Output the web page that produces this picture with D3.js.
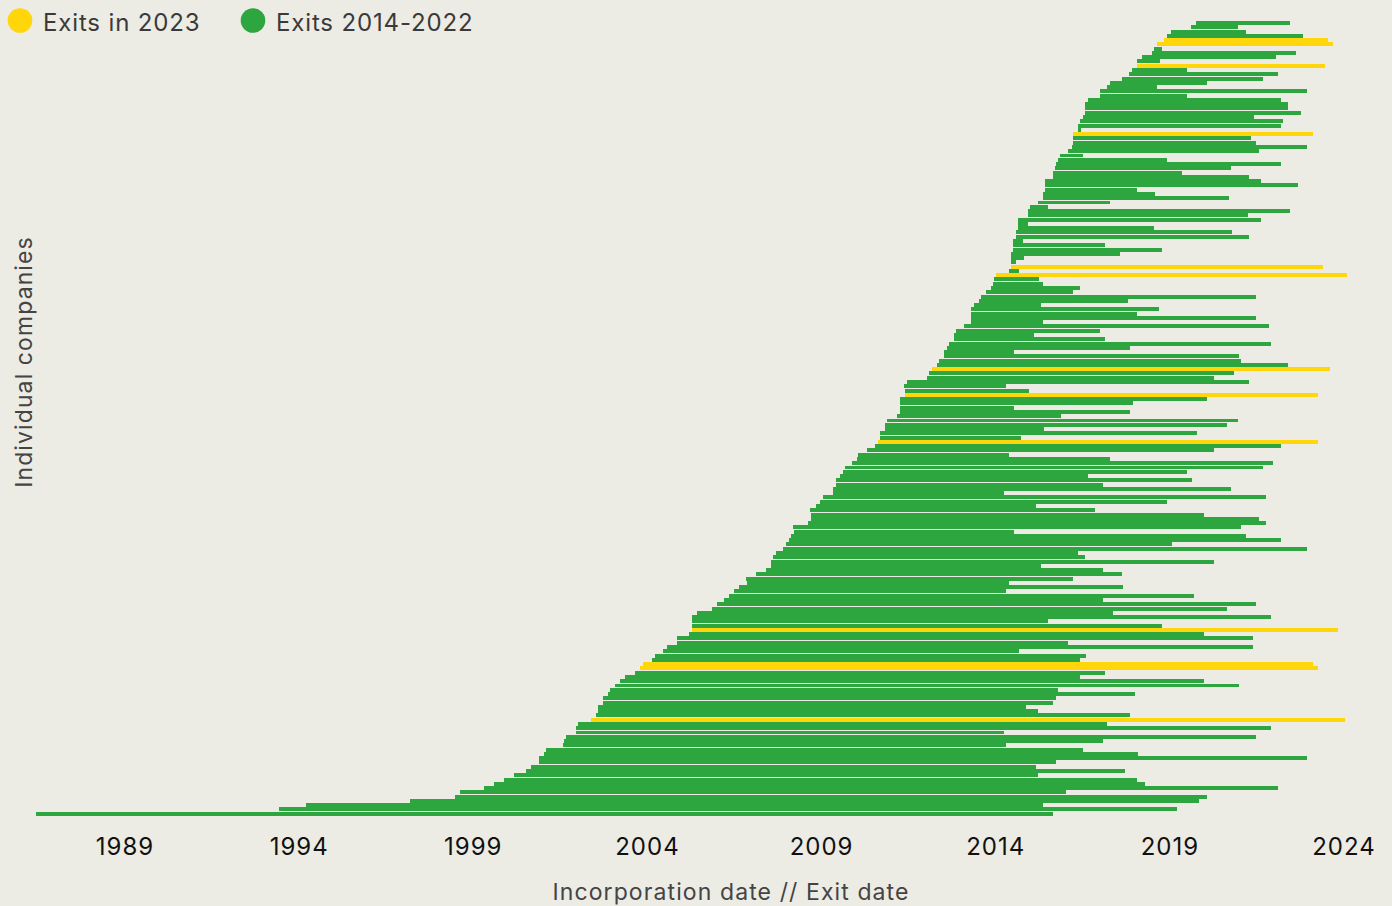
<!DOCTYPE html>
<html>
<head>
<meta charset="utf-8">
<script src="https://cdn.jsdelivr.net/npm/d3@7"></script>
<style>
    html, body { margin: 0; padding: 0; background: #ecebe4; }
    svg { display: block; font-family: Inter, "Noto Sans", sans-serif; }
</style>
</head>
<body>
<div id="chart"></div>
<script>
// one row per company, top to bottom, as decimal years
var incorporated = [
    2019.77, 2019.63, 2019.05, 2018.94, 2018.85, 2018.65, 2018.57, 2018.51, 2018.22, 2018.08,
    2018.08, 2017.93, 2017.85, 2017.65, 2017.30, 2017.22, 2017.01, 2017.01, 2016.67, 2016.58,
    2016.58, 2016.58, 2016.53, 2016.44, 2016.38, 2016.38, 2016.24, 2016.24, 2016.24, 2016.21,
    2016.10, 2015.87, 2015.81, 2015.75, 2015.72, 2015.67, 2015.67, 2015.44, 2015.44, 2015.44,
    2015.38, 2015.38, 2015.23, 2015.00, 2014.95, 2014.95, 2014.66, 2014.66, 2014.66, 2014.60,
    2014.60, 2014.52, 2014.52, 2014.52, 2014.46, 2014.46, 2014.46, 2014.46, 2014.40, 2014.03,
    2013.97, 2013.94, 2013.89, 2013.74, 2013.60, 2013.54, 2013.40, 2013.31, 2013.31, 2013.31,
    2013.31, 2013.11, 2012.88, 2012.82, 2012.82, 2012.68, 2012.62, 2012.54, 2012.54, 2012.39,
    2012.33, 2012.19, 2012.11, 2012.05, 2011.47, 2011.39, 2011.42, 2011.42, 2011.27, 2011.27,
    2011.27, 2011.27, 2011.19, 2010.90, 2010.84, 2010.84, 2010.70, 2010.70, 2010.64, 2010.55,
    2010.33, 2010.07, 2010.04, 2009.89, 2009.69, 2009.64, 2009.55, 2009.43, 2009.43, 2009.35,
    2009.35, 2009.06, 2008.98, 2008.86, 2008.69, 2008.72, 2008.72, 2008.63, 2008.20, 2008.23,
    2008.14, 2008.09, 2008.00, 2007.91, 2007.71, 2007.63, 2007.57, 2007.57, 2007.43, 2007.14,
    2006.85, 2006.88, 2006.65, 2006.51, 2006.36, 2006.22, 2006.02, 2005.87, 2005.44, 2005.30,
    2005.30, 2005.30, 2005.30, 2005.21, 2004.87, 2004.87, 2004.58, 2004.47, 2004.24, 2004.15,
    2003.89, 2003.81, 2003.66, 2003.38, 2003.23, 2003.09, 2002.95, 2002.89, 2002.75, 2002.75,
    2002.60, 2002.60, 2002.54, 2002.40, 2002.03, 2001.97, 2001.97, 2001.68, 2001.63, 2001.60,
    2001.11, 2001.05, 2000.91, 2000.91, 2000.68, 2000.53, 2000.19, 1999.90, 1999.62, 1999.33,
    1998.64, 1998.50, 1997.20, 1994.22, 1993.44, 1986.47
];

var exited = [
    2022.47, 2020.98, 2021.21, 2022.84, 2023.56, 2023.70, 2018.79, 2022.64, 2022.07, 2018.74,
    2023.47, 2019.51, 2022.13, 2021.69, 2020.09, 2018.65, 2022.96, 2019.51, 2022.21, 2022.41,
    2022.41, 2022.79, 2021.44, 2022.27, 2022.21, 2016.47, 2023.13, 2021.35, 2021.49, 2022.97,
    2021.58, 2016.53, 2018.94, 2022.21, 2020.78, 2019.37, 2021.29, 2021.64, 2022.70, 2018.08,
    2018.59, 2020.72, 2017.30, 2015.52, 2022.47, 2021.26, 2021.64, 2014.95, 2018.57, 2020.80,
    2021.29, 2014.80, 2017.16, 2018.79, 2017.59, 2014.83, 2014.60, 2023.42, 2014.69, 2024.11,
    2015.26, 2015.38, 2016.44, 2016.24, 2021.49, 2017.82, 2015.32, 2018.71, 2018.08, 2021.49,
    2015.38, 2021.87, 2017.01, 2015.12, 2017.16, 2021.92, 2017.88, 2014.55, 2021.01, 2021.06,
    2022.41, 2023.62, 2020.86, 2020.29, 2021.29, 2014.32, 2014.98, 2023.27, 2020.09, 2017.96,
    2014.55, 2017.88, 2015.89, 2020.98, 2020.66, 2015.41, 2019.80, 2014.75, 2023.27, 2022.21,
    2020.29, 2014.40, 2017.30, 2021.98, 2021.69, 2019.51, 2016.67, 2019.66, 2017.10, 2020.78,
    2014.26, 2021.78, 2018.94, 2015.18, 2016.87, 2020.00, 2021.58, 2021.78, 2021.06, 2014.55,
    2021.21, 2022.21, 2019.08, 2022.96, 2016.38, 2016.58, 2020.29, 2015.32, 2017.10, 2017.65,
    2016.24, 2014.40, 2017.67, 2014.32, 2019.71, 2017.10, 2021.49, 2020.66, 2017.39, 2021.92,
    2015.52, 2018.79, 2023.85, 2020.00, 2021.41, 2016.10, 2021.41, 2014.69, 2016.61, 2016.44,
    2023.13, 2023.27, 2017.16, 2016.44, 2020.00, 2021.01, 2015.81, 2018.02, 2015.75, 2015.67,
    2014.89, 2015.23, 2017.88, 2024.05, 2017.22, 2021.92, 2014.26, 2021.49, 2017.10, 2014.32,
    2016.53, 2018.11, 2022.96, 2015.75, 2015.18, 2017.73, 2015.23, 2018.08, 2018.31, 2022.13,
    2016.04, 2020.09, 2019.86, 2015.38, 2019.23, 2015.67
];

var tickYears = [1989, 1994, 1999, 2004, 2009, 2014, 2019, 2024];
var legendLabels = ['Exits in 2023', 'Exits 2014-2022'];

var YELLOW = '#ffd60a';
var GREEN = '#2ea640';

var width = 1392, height = 906;

var svg = d3.select('#chart')
    .append('svg')
        .attr('width', width)
        .attr('height', height);

// Set the ranges
var x = d3.scaleLinear().domain([1989, 2024]).range([124, 1343]);
var y = d3.scaleBand().domain(d3.range(incorporated.length)).range([21, 816]).padding(0);

var rows = incorporated.map(function(d, i) {
    return { start: d, end: exited[i] };
});

// the bars
svg.append('g')
    .attr('shape-rendering', 'crispEdges')
    .selectAll('rect')
    .data(rows)
    .enter().append('rect')
        .attr('x', function(d) { return x(d.start); })
        .attr('y', function(d, i) { return y(i); })
        .attr('width', function(d) { return x(d.end) - x(d.start); })
        .attr('height', y.bandwidth() - 0.3)
        .attr('fill', function(d) { return d.end >= 2023 ? YELLOW : GREEN; });

// x axis, labels only
var xAxis = d3.axisBottom(x).tickValues(tickYears).tickFormat(d3.format('d')).tickSize(0).tickPadding(0);
var gx = svg.append('g')
    .attr('transform', 'translate(0,836)')
    .call(xAxis);
gx.select('.domain').remove();
gx.selectAll('text')
    .attr('dy', '0.78em')
    .attr('dx', '0.5px')
    .attr('fill', '#111')
    .style('font-size', '24px')
    .style('letter-spacing', '1px')
    .style('font-family', 'Inter, "Noto Sans", sans-serif');

svg.append('text')
    .attr('x', 731)
    .attr('y', 900)
    .attr('text-anchor', 'middle')
    .attr('fill', '#444')
    .style('font-size', '23px')
    .style('letter-spacing', '1.1px')
    .text('Incorporation date // Exit date');

svg.append('text')
    .attr('transform', 'translate(32,362) rotate(-90)')
    .attr('text-anchor', 'middle')
    .attr('fill', '#444')
    .style('font-size', '23px')
    .style('letter-spacing', '1.1px')
    .text('Individual companies');

// legend
var legend = svg.append('g');
var legendX = [20, 253];
var legendColors = [YELLOW, GREEN];
legendLabels.forEach(function(label, i) {
    legend.append('circle')
        .attr('cx', legendX[i])
        .attr('cy', 20.5)
        .attr('r', 12.3)
        .attr('fill', legendColors[i]);
    legend.append('text')
        .attr('x', legendX[i] + 23)
        .attr('y', 30.5)
        .attr('fill', '#3a3a3a')
        .style('font-size', '24px')
        .style('letter-spacing', '0.85px')
        .text(label);
});
</script>
</body>
</html>
